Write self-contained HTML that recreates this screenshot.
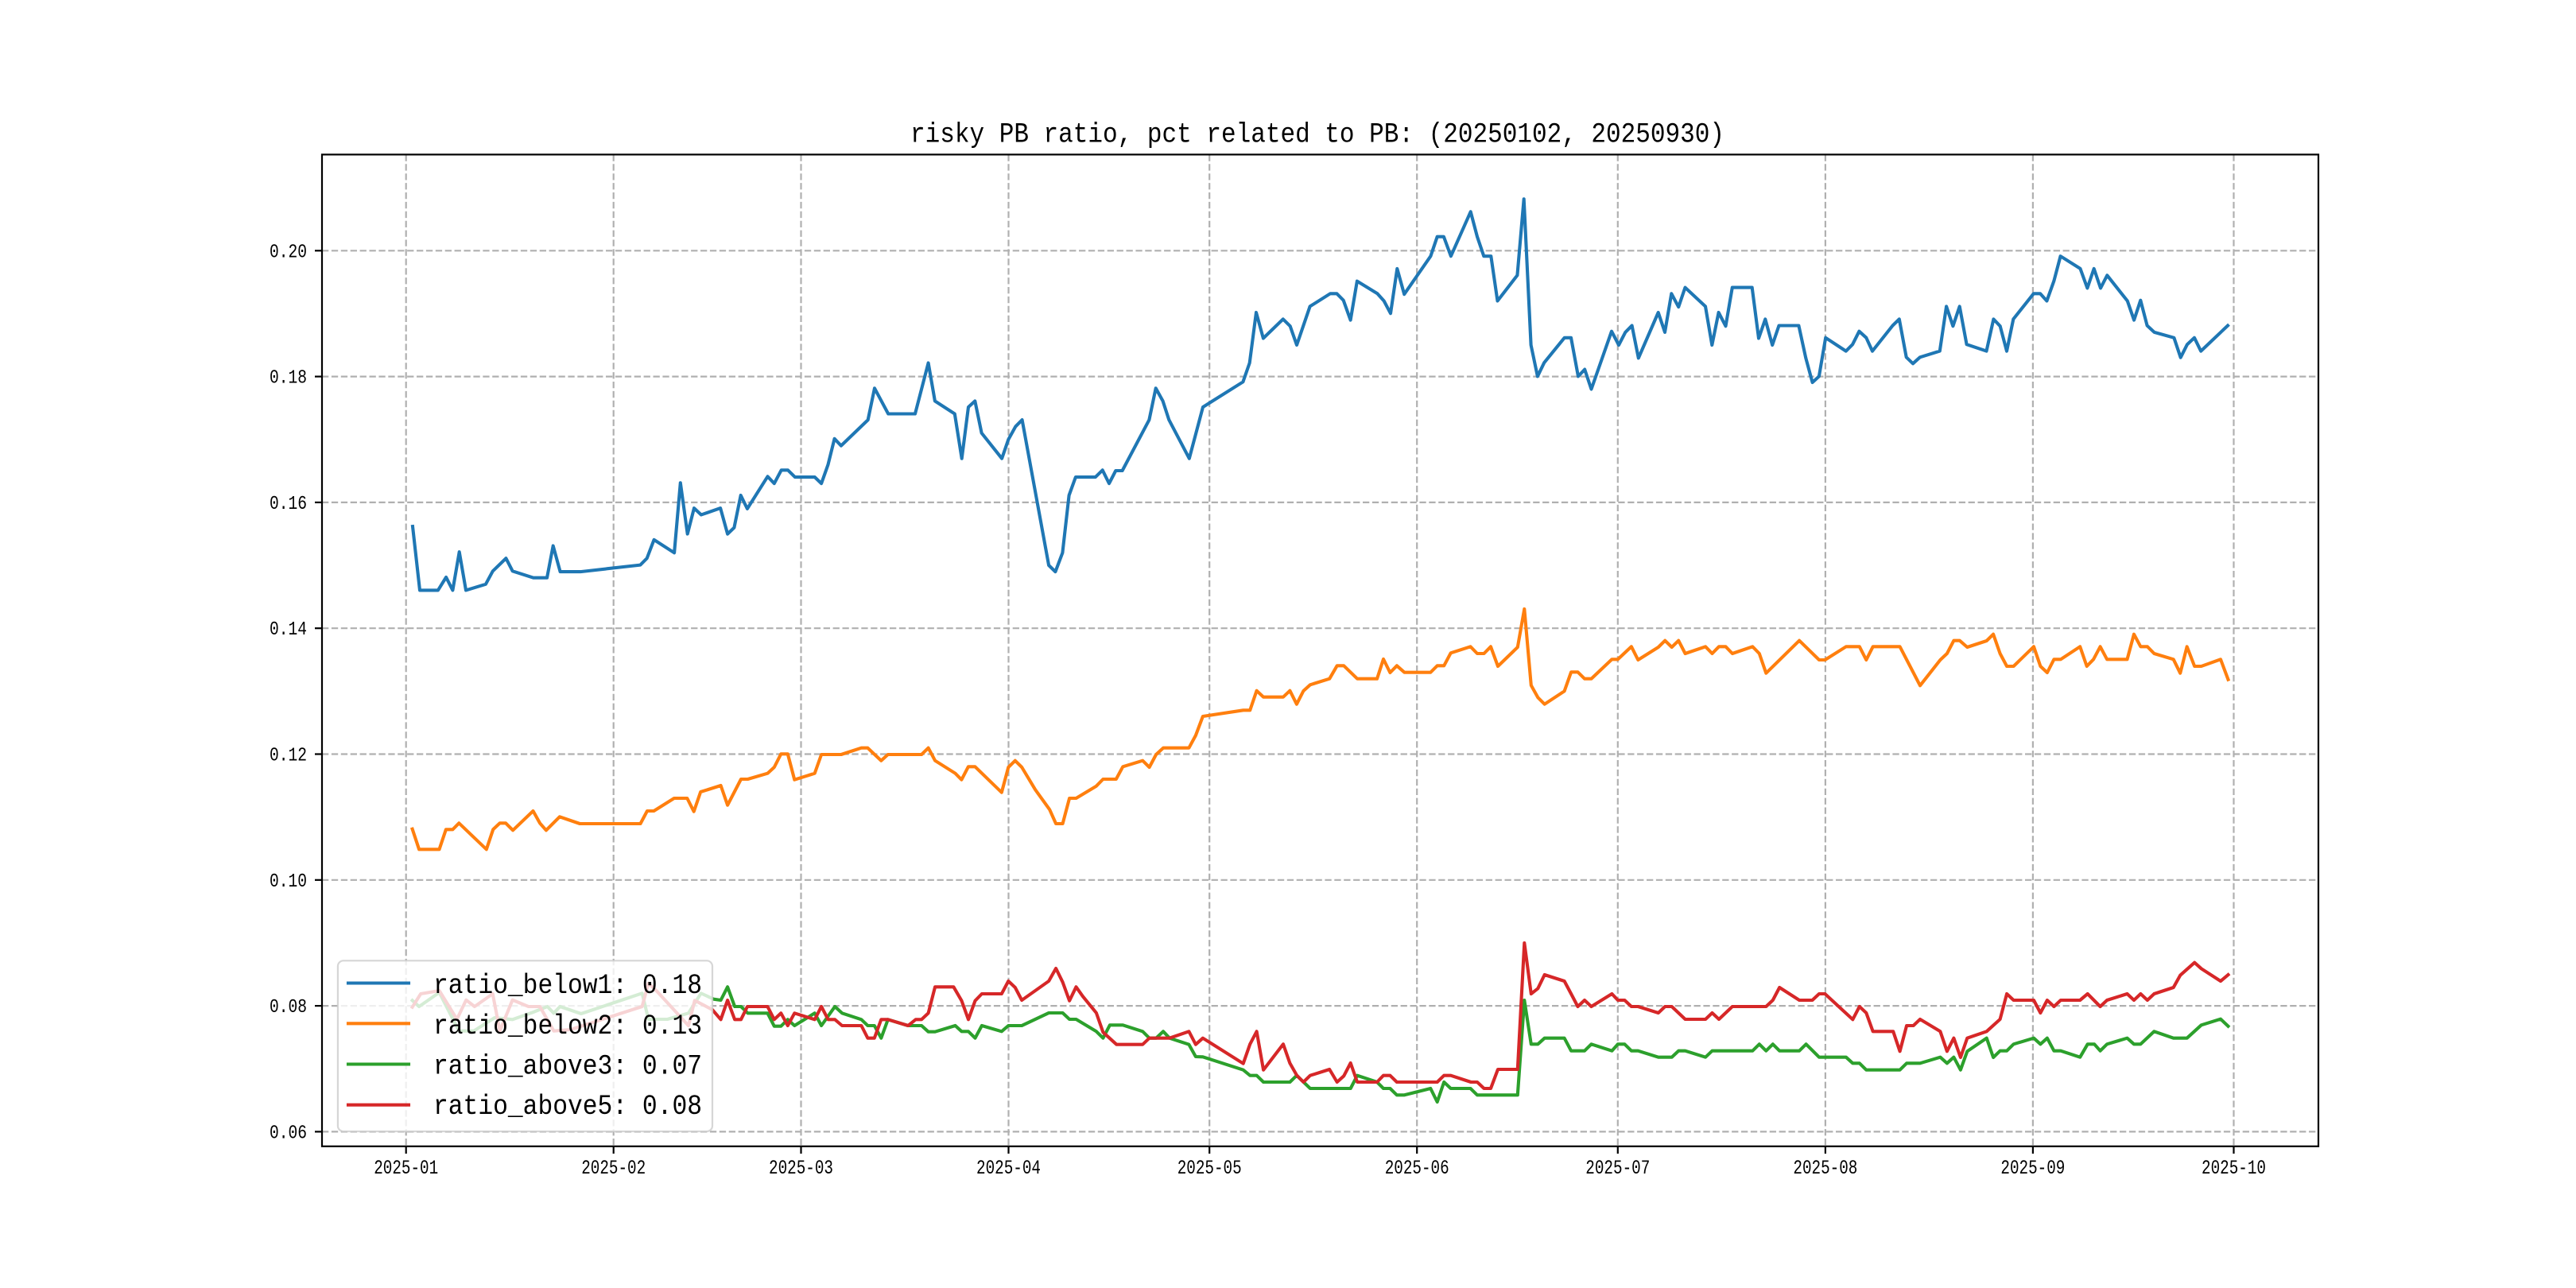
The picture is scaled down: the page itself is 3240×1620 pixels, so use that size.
<!DOCTYPE html>
<html>
<head>
<meta charset="utf-8">
<style>
  html, body { margin: 0; padding: 0; background: #ffffff; }
  svg { display: block; }
  text { font-family: "Liberation Mono", "Noto Sans CJK SC", monospace; fill: #000; }
</style>
</head>
<body>
<svg width="3240" height="1620" viewBox="0 0 3240 1620" xmlns="http://www.w3.org/2000/svg">
  <rect x="0" y="0" width="3240" height="1620" fill="#ffffff"/>
  <rect x="405" y="194.4" width="2511" height="1247.4" fill="#ffffff"/>

  <!-- grid -->
  <g stroke="#b0b0b0" stroke-width="2.2" stroke-dasharray="8.3 3.6" fill="none">
    <line x1="405" y1="315.3" x2="2916" y2="315.3"/>
    <line x1="405" y1="473.6" x2="2916" y2="473.6"/>
    <line x1="405" y1="631.9" x2="2916" y2="631.9"/>
    <line x1="405" y1="790.2" x2="2916" y2="790.2"/>
    <line x1="405" y1="948.5" x2="2916" y2="948.5"/>
    <line x1="405" y1="1106.8" x2="2916" y2="1106.8"/>
    <line x1="405" y1="1265.1" x2="2916" y2="1265.1"/>
    <line x1="405" y1="1423.4" x2="2916" y2="1423.4"/>
    <line x1="510.7" y1="194.4" x2="510.7" y2="1441.8"/>
    <line x1="771.7" y1="194.4" x2="771.7" y2="1441.8"/>
    <line x1="1007.5" y1="194.4" x2="1007.5" y2="1441.8"/>
    <line x1="1268.5" y1="194.4" x2="1268.5" y2="1441.8"/>
    <line x1="1521.2" y1="194.4" x2="1521.2" y2="1441.8"/>
    <line x1="1782.2" y1="194.4" x2="1782.2" y2="1441.8"/>
    <line x1="2034.8" y1="194.4" x2="2034.8" y2="1441.8"/>
    <line x1="2295.9" y1="194.4" x2="2295.9" y2="1441.8"/>
    <line x1="2556.9" y1="194.4" x2="2556.9" y2="1441.8"/>
    <line x1="2809.5" y1="194.4" x2="2809.5" y2="1441.8"/>
  </g>

  <!-- series -->
  <g fill="none" stroke-width="4.1" stroke-linejoin="round" stroke-linecap="square">
    <polyline stroke="#1f77b4" points="519.0,662.1 528.0,742.4 550.9,742.4 561.1,726.0 569.4,742.4 577.7,694.2 586.0,742.4 610.9,734.8 619.8,718.3 636.4,702.2 644.7,718.3 670.8,726.7 688.0,726.7 695.7,686.5 704.6,719.1 730.1,719.1 805.4,710.6 813.7,702.2 822.6,678.9 848.1,695.3 855.8,607.3 864.7,671.6 873.0,639.1 881.9,647.5 906.1,639.1 915.1,671.6 923.4,663.6 931.7,623.0 939.9,639.9 965.5,599.3 973.8,608.1 982.7,591.3 991.0,591.3 999.9,600.1 1024.8,600.1 1033.1,608.1 1041.4,584.7 1049.6,551.8 1057.9,560.6 1091.7,528.1 1100.0,488.3 1117.2,520.5 1151.0,520.5 1167.6,456.5 1175.9,504.4 1200.8,520.5 1209.7,576.7 1218.0,512.0 1226.3,504.4 1234.6,544.6 1260.1,576.7 1268.4,552.6 1277.3,536.5 1285.6,528.1 1319.1,711.0 1327.4,719.1 1336.4,695.3 1344.6,623.0 1352.9,600.1 1377.8,600.1 1386.7,591.3 1395.0,608.1 1403.3,592.0 1411.6,592.0 1445.4,528.1 1453.7,488.3 1462.6,504.4 1470.3,528.1 1495.8,576.7 1513.0,512.0 1563.4,480.3 1571.7,456.5 1580.0,393.0 1588.9,425.5 1613.8,401.4 1622.7,410.2 1631.0,434.0 1647.6,385.4 1673.1,369.3 1681.4,369.3 1689.7,377.7 1698.6,402.6 1706.9,353.6 1732.4,369.3 1740.7,378.5 1749.0,394.2 1757.3,337.9 1766.2,370.1 1799.4,322.2 1807.7,297.7 1815.9,297.7 1824.9,322.2 1849.7,266.3 1858.0,297.7 1866.3,322.2 1875.3,322.2 1883.5,378.5 1908.4,346.3 1916.7,250.3 1925.6,434.0 1933.9,473.4 1942.2,456.2 1967.7,424.8 1976.0,424.8 1985.0,473.4 1993.2,464.6 2001.5,489.5 2027.0,416.7 2036.0,434.0 2044.3,417.9 2052.6,409.5 2060.8,450.4 2085.7,393.0 2094.0,417.9 2102.3,369.3 2111.2,386.1 2119.5,361.6 2145.0,385.4 2153.3,434.0 2161.6,393.0 2170.5,410.2 2178.8,361.6 2203.7,361.6 2212.0,425.5 2220.3,401.4 2229.2,434.0 2237.5,409.5 2262.4,409.5 2271.3,450.4 2279.6,481.0 2287.9,473.4 2296.2,424.8 2321.8,441.6 2330.1,433.2 2338.4,416.7 2347.3,424.8 2355.0,441.6 2380.5,409.5 2388.8,401.4 2397.7,449.3 2406.0,457.3 2414.9,449.3 2439.8,441.6 2448.1,385.4 2456.4,410.2 2464.7,385.4 2473.6,433.2 2498.5,441.6 2507.4,401.4 2515.7,410.2 2524.0,441.6 2532.3,401.4 2557.8,369.3 2566.1,369.3 2574.4,378.5 2583.3,353.6 2591.6,322.2 2616.5,337.9 2625.4,362.4 2633.7,337.9 2642.0,362.4 2650.3,346.3 2675.8,378.5 2684.1,402.6 2692.3,377.7 2700.6,409.5 2709.6,417.9 2734.4,424.8 2742.7,449.7 2751.0,433.2 2760.0,424.8 2768.2,441.6 2802.0,409.5"/>
    <polyline stroke="#ff7f0e" points="518.6,1042.7 527.1,1068.3 552.5,1068.3 560.9,1043.3 569.4,1043.3 577.3,1035.3 611.8,1068.3 620.2,1043.3 628.7,1035.3 636.1,1035.3 645.1,1044.3 670.5,1020.0 679.0,1035.3 686.9,1044.3 703.9,1027.3 729.3,1036.0 805.5,1036.0 814.0,1020.0 822.4,1020.0 847.9,1004.0 864.3,1004.0 872.7,1020.7 881.2,996.0 906.6,988.0 915.1,1012.7 932.0,980.0 940.5,980.0 965.4,972.7 973.8,965.0 982.3,948.3 990.8,948.3 999.3,980.7 1024.7,972.7 1033.1,949.0 1058.0,949.0 1083.4,940.7 1091.4,940.7 1108.3,956.7 1116.8,949.0 1159.1,949.0 1167.6,940.7 1176.1,956.7 1201.5,972.7 1209.4,980.7 1217.9,964.3 1226.4,964.3 1259.8,996.7 1268.3,965.0 1276.8,956.7 1285.2,965.0 1302.2,993.3 1320.2,1018.3 1328.1,1036.0 1336.6,1036.0 1345.1,1004.0 1353.5,1004.0 1378.9,988.7 1387.4,980.0 1403.8,980.0 1412.3,964.3 1437.2,956.7 1445.6,965.0 1454.1,949.0 1463.1,940.7 1495.4,940.7 1503.9,925.0 1512.9,901.0 1563.7,893.3 1572.2,893.3 1580.6,868.7 1589.1,876.7 1614.0,876.7 1622.4,868.7 1630.9,885.7 1639.4,869.0 1647.9,861.3 1672.2,853.7 1681.7,837.3 1690.2,837.3 1707.1,853.7 1732.0,853.7 1740.0,829.0 1748.4,846.0 1756.9,837.3 1766.4,845.7 1799.3,845.7 1807.7,837.3 1816.2,837.3 1824.7,821.3 1849.5,813.3 1858.0,822.0 1866.5,822.0 1875.0,813.3 1884.0,838.0 1908.8,814.0 1917.3,766.0 1925.8,862.0 1934.3,877.3 1942.7,885.7 1967.6,869.3 1976.1,845.3 1984.5,845.3 1993.0,853.7 2001.5,853.7 2027.4,829.3 2034.9,829.3 2051.9,813.3 2060.3,830.0 2085.8,814.0 2094.2,805.7 2102.7,814.0 2111.2,805.7 2119.6,822.0 2145.1,813.3 2153.5,822.0 2162.0,813.3 2170.5,813.3 2178.9,822.0 2204.3,813.3 2212.8,822.0 2221.3,846.7 2263.1,805.7 2288.0,830.0 2295.4,830.0 2321.9,813.3 2338.8,813.3 2347.3,830.0 2355.7,813.3 2389.6,813.3 2415.0,862.3 2440.4,830.0 2448.9,822.0 2457.4,805.7 2464.8,805.7 2474.3,814.0 2498.7,806.0 2507.1,797.7 2515.6,822.0 2524.1,838.0 2532.6,838.0 2558.0,813.3 2566.4,838.0 2574.9,846.0 2583.4,829.3 2591.9,829.3 2616.2,813.3 2624.7,838.0 2633.1,829.3 2641.6,813.3 2650.1,829.3 2675.5,829.3 2684.0,797.7 2692.4,813.3 2700.9,813.3 2709.4,822.0 2733.7,829.3 2742.2,846.7 2750.7,813.3 2760.2,838.0 2768.7,838.0 2793.0,829.3 2802.5,854.7"/>
    <polyline stroke="#2ca02c" points="518.6,1258.3 527.1,1266.0 552.5,1248.3 577.3,1296.7 595.9,1296.7 622.3,1280.0 644.6,1282.3 670.0,1273.3 688.5,1266.0 696.5,1274.3 704.4,1266.0 730.9,1275.0 807.6,1249.3 815.6,1282.0 839.4,1282.0 865.9,1274.3 881.7,1249.3 897.6,1256.7 906.6,1258.0 915.1,1241.3 924.1,1266.0 932.0,1266.0 940.5,1274.3 965.4,1274.3 973.8,1290.7 982.3,1290.7 990.8,1282.3 999.3,1290.0 1024.7,1274.3 1033.1,1290.0 1050.1,1266.0 1059.1,1274.3 1083.4,1282.3 1091.4,1290.0 1099.8,1290.0 1108.3,1305.7 1116.8,1282.3 1142.2,1290.0 1159.1,1290.0 1167.6,1297.7 1176.1,1297.7 1201.5,1290.0 1209.5,1297.3 1218.0,1297.3 1226.5,1305.7 1234.9,1290.0 1259.8,1297.3 1268.3,1290.0 1285.2,1290.0 1319.1,1274.0 1336.6,1274.0 1345.1,1282.0 1353.5,1282.0 1378.9,1297.3 1387.4,1305.7 1395.9,1289.3 1412.3,1289.3 1437.2,1297.3 1445.6,1305.7 1454.1,1305.7 1463.1,1297.3 1471.0,1305.7 1495.4,1313.7 1503.9,1329.0 1512.9,1329.3 1563.7,1345.7 1572.2,1352.7 1580.6,1352.7 1589.1,1361.0 1622.4,1361.0 1630.9,1352.7 1647.9,1369.0 1698.7,1369.0 1707.1,1352.7 1732.0,1361.0 1740.0,1369.0 1748.4,1369.0 1756.9,1377.3 1766.4,1377.3 1799.3,1369.0 1807.7,1386.0 1816.2,1361.0 1824.7,1369.0 1849.5,1369.0 1858.0,1377.3 1908.8,1377.3 1917.3,1258.0 1925.8,1313.3 1934.3,1313.3 1942.7,1305.7 1967.6,1305.7 1976.1,1321.7 1993.0,1321.7 2001.5,1313.3 2027.4,1321.7 2034.9,1313.3 2043.4,1313.3 2051.9,1321.7 2060.3,1321.7 2085.8,1329.7 2102.7,1329.7 2111.2,1321.7 2119.6,1321.7 2145.1,1329.7 2153.5,1321.7 2204.3,1321.7 2212.8,1313.3 2221.3,1321.7 2229.8,1313.3 2238.2,1321.7 2263.1,1321.7 2271.6,1313.3 2288.0,1329.7 2321.9,1329.7 2330.3,1337.3 2338.8,1337.3 2347.3,1345.7 2389.6,1345.7 2398.1,1337.3 2415.0,1337.3 2440.4,1329.7 2448.9,1337.3 2457.4,1329.7 2465.9,1345.7 2474.3,1322.3 2498.7,1305.7 2507.1,1330.0 2515.6,1321.7 2524.1,1321.7 2532.6,1313.3 2558.0,1305.7 2566.4,1313.3 2574.9,1305.7 2583.4,1321.7 2591.9,1321.7 2616.2,1329.7 2625.7,1313.3 2634.2,1313.3 2641.6,1321.7 2650.1,1313.3 2675.5,1305.7 2684.0,1313.3 2692.4,1313.3 2709.4,1297.3 2733.7,1305.7 2750.7,1305.7 2768.7,1289.3 2793.0,1281.7 2802.5,1290.7"/>
    <polyline stroke="#d62728" points="518.6,1266.7 529.2,1250.0 552.5,1246.0 574.7,1282.0 586.3,1257.7 596.9,1266.0 619.7,1250.0 628.7,1296.7 644.6,1257.7 664.7,1266.0 679.0,1266.0 696.5,1296.7 717.6,1295.0 807.6,1266.0 815.6,1236.7 826.2,1246.7 865.9,1290.0 873.8,1258.3 896.0,1270.0 906.6,1282.3 915.1,1258.0 924.1,1282.3 932.0,1282.3 940.0,1266.0 965.4,1266.0 973.8,1282.3 982.3,1274.3 990.8,1290.0 999.3,1274.3 1024.7,1282.3 1033.1,1266.0 1041.6,1282.3 1050.1,1282.3 1059.1,1290.0 1083.4,1290.0 1091.4,1305.7 1099.8,1305.7 1108.3,1282.3 1116.8,1282.3 1142.2,1290.0 1151.7,1282.3 1159.1,1282.3 1167.6,1274.3 1176.1,1241.3 1199.4,1241.3 1209.5,1258.7 1218.0,1282.3 1226.5,1258.7 1234.9,1250.0 1259.8,1250.0 1268.3,1234.0 1276.8,1242.0 1285.2,1258.0 1319.1,1234.0 1328.1,1218.0 1336.6,1235.3 1345.1,1258.7 1353.5,1241.3 1362.0,1253.3 1378.9,1274.0 1387.4,1298.3 1404.3,1313.7 1437.2,1313.7 1445.6,1305.7 1471.0,1305.7 1495.4,1297.3 1503.9,1313.7 1512.9,1305.7 1563.7,1337.7 1572.2,1313.3 1580.6,1297.3 1589.1,1345.7 1614.0,1313.3 1622.4,1337.3 1630.9,1352.3 1639.4,1361.0 1647.9,1352.7 1672.2,1345.0 1681.7,1361.0 1690.2,1353.3 1698.7,1337.0 1707.1,1361.0 1732.0,1361.0 1740.0,1352.7 1748.4,1352.7 1756.9,1361.0 1807.7,1361.0 1816.2,1352.7 1824.7,1352.7 1850.1,1361.0 1858.0,1361.0 1866.5,1369.0 1875.0,1369.0 1884.0,1345.0 1908.8,1345.0 1917.3,1186.0 1925.8,1250.0 1934.3,1243.3 1942.7,1226.0 1967.6,1234.0 1976.1,1250.0 1984.5,1266.0 1993.0,1258.0 2001.5,1266.0 2027.4,1250.0 2034.9,1258.0 2043.4,1258.0 2051.9,1266.0 2060.3,1266.0 2085.8,1274.0 2094.2,1266.0 2102.7,1266.0 2119.6,1282.0 2145.1,1282.0 2153.5,1274.0 2162.0,1282.0 2178.9,1266.0 2221.3,1266.0 2229.8,1258.0 2238.2,1242.0 2263.1,1258.0 2279.5,1258.0 2288.0,1250.0 2295.4,1250.0 2330.3,1282.3 2338.8,1266.0 2347.3,1274.0 2355.7,1297.3 2381.2,1297.3 2389.6,1322.3 2398.1,1290.0 2406.6,1290.0 2415.0,1282.0 2440.4,1297.3 2448.9,1322.3 2457.4,1305.7 2465.9,1330.0 2474.3,1305.7 2498.7,1297.3 2515.6,1282.0 2524.1,1250.0 2532.6,1258.0 2558.0,1258.0 2566.4,1274.0 2574.9,1258.0 2583.4,1266.0 2591.9,1258.0 2616.2,1258.0 2625.7,1250.0 2641.6,1266.0 2650.1,1258.0 2675.5,1250.0 2684.0,1258.0 2692.4,1250.0 2700.9,1258.0 2709.4,1250.0 2733.7,1242.0 2742.2,1226.7 2760.2,1210.7 2768.7,1218.3 2793.0,1234.0 2802.5,1226.0"/>
  </g>

  <!-- spines -->
  <rect x="405" y="194.4" width="2511" height="1247.4" fill="none" stroke="#000" stroke-width="2.2"/>

  <!-- ticks -->
  <g stroke="#000" stroke-width="2.2">
    <line x1="396" y1="315.3" x2="405" y2="315.3"/>
    <line x1="396" y1="473.6" x2="405" y2="473.6"/>
    <line x1="396" y1="631.9" x2="405" y2="631.9"/>
    <line x1="396" y1="790.2" x2="405" y2="790.2"/>
    <line x1="396" y1="948.5" x2="405" y2="948.5"/>
    <line x1="396" y1="1106.8" x2="405" y2="1106.8"/>
    <line x1="396" y1="1265.1" x2="405" y2="1265.1"/>
    <line x1="396" y1="1423.4" x2="405" y2="1423.4"/>
    <line x1="510.7" y1="1441.8" x2="510.7" y2="1451"/>
    <line x1="771.7" y1="1441.8" x2="771.7" y2="1451"/>
    <line x1="1007.5" y1="1441.8" x2="1007.5" y2="1451"/>
    <line x1="1268.5" y1="1441.8" x2="1268.5" y2="1451"/>
    <line x1="1521.2" y1="1441.8" x2="1521.2" y2="1451"/>
    <line x1="1782.2" y1="1441.8" x2="1782.2" y2="1451"/>
    <line x1="2034.8" y1="1441.8" x2="2034.8" y2="1451"/>
    <line x1="2295.9" y1="1441.8" x2="2295.9" y2="1451"/>
    <line x1="2556.9" y1="1441.8" x2="2556.9" y2="1451"/>
    <line x1="2809.5" y1="1441.8" x2="2809.5" y2="1451"/>
  </g>

  <g font-size="24.5" text-anchor="end">
    <text x="386" y="323.3" textLength="47" lengthAdjust="spacingAndGlyphs">0.20</text>
    <text x="386" y="481.6" textLength="47" lengthAdjust="spacingAndGlyphs">0.18</text>
    <text x="386" y="639.9" textLength="47" lengthAdjust="spacingAndGlyphs">0.16</text>
    <text x="386" y="798.2" textLength="47" lengthAdjust="spacingAndGlyphs">0.14</text>
    <text x="386" y="956.5" textLength="47" lengthAdjust="spacingAndGlyphs">0.12</text>
    <text x="386" y="1114.8" textLength="47" lengthAdjust="spacingAndGlyphs">0.10</text>
    <text x="386" y="1273.1" textLength="47" lengthAdjust="spacingAndGlyphs">0.08</text>
    <text x="386" y="1431.4" textLength="47" lengthAdjust="spacingAndGlyphs">0.06</text>
  </g>

  <g font-size="25" text-anchor="middle">
    <text x="510.7" y="1476" textLength="81" lengthAdjust="spacingAndGlyphs">2025-01</text>
    <text x="771.7" y="1476" textLength="81" lengthAdjust="spacingAndGlyphs">2025-02</text>
    <text x="1007.5" y="1476" textLength="81" lengthAdjust="spacingAndGlyphs">2025-03</text>
    <text x="1268.5" y="1476" textLength="81" lengthAdjust="spacingAndGlyphs">2025-04</text>
    <text x="1521.2" y="1476" textLength="81" lengthAdjust="spacingAndGlyphs">2025-05</text>
    <text x="1782.2" y="1476" textLength="81" lengthAdjust="spacingAndGlyphs">2025-06</text>
    <text x="2034.8" y="1476" textLength="81" lengthAdjust="spacingAndGlyphs">2025-07</text>
    <text x="2295.9" y="1476" textLength="81" lengthAdjust="spacingAndGlyphs">2025-08</text>
    <text x="2556.9" y="1476" textLength="81" lengthAdjust="spacingAndGlyphs">2025-09</text>
    <text x="2809.5" y="1476" textLength="81" lengthAdjust="spacingAndGlyphs">2025-10</text>
  </g>

  <!-- title -->
  <text x="1145" y="178.5" font-size="35.5" textLength="1024" lengthAdjust="spacingAndGlyphs">risky PB ratio, pct related to PB: (20250102, 20250930)</text>

  <!-- legend -->
  <rect x="424.9" y="1208.3" width="471.1" height="214.7" rx="7" ry="7" fill="#ffffff" fill-opacity="0.8" stroke="#cccccc" stroke-opacity="0.8" stroke-width="2.2"/>
  <g stroke-width="4.1" stroke-linecap="square">
    <line x1="438" y1="1236.5" x2="514" y2="1236.5" stroke="#1f77b4"/>
    <line x1="438" y1="1287.3" x2="514" y2="1287.3" stroke="#ff7f0e"/>
    <line x1="438" y1="1338.5" x2="514" y2="1338.5" stroke="#2ca02c"/>
    <line x1="438" y1="1389.7" x2="514" y2="1389.7" stroke="#d62728"/>
  </g>
  <g font-size="35">
    <text x="545" y="1249" textLength="338" lengthAdjust="spacingAndGlyphs">ratio_below1: 0.18</text>
    <text x="545" y="1299.8" textLength="338" lengthAdjust="spacingAndGlyphs">ratio_below2: 0.13</text>
    <text x="545" y="1350.6" textLength="338" lengthAdjust="spacingAndGlyphs">ratio_above3: 0.07</text>
    <text x="545" y="1401.2" textLength="338" lengthAdjust="spacingAndGlyphs">ratio_above5: 0.08</text>
  </g>
</svg>
</body>
</html>
